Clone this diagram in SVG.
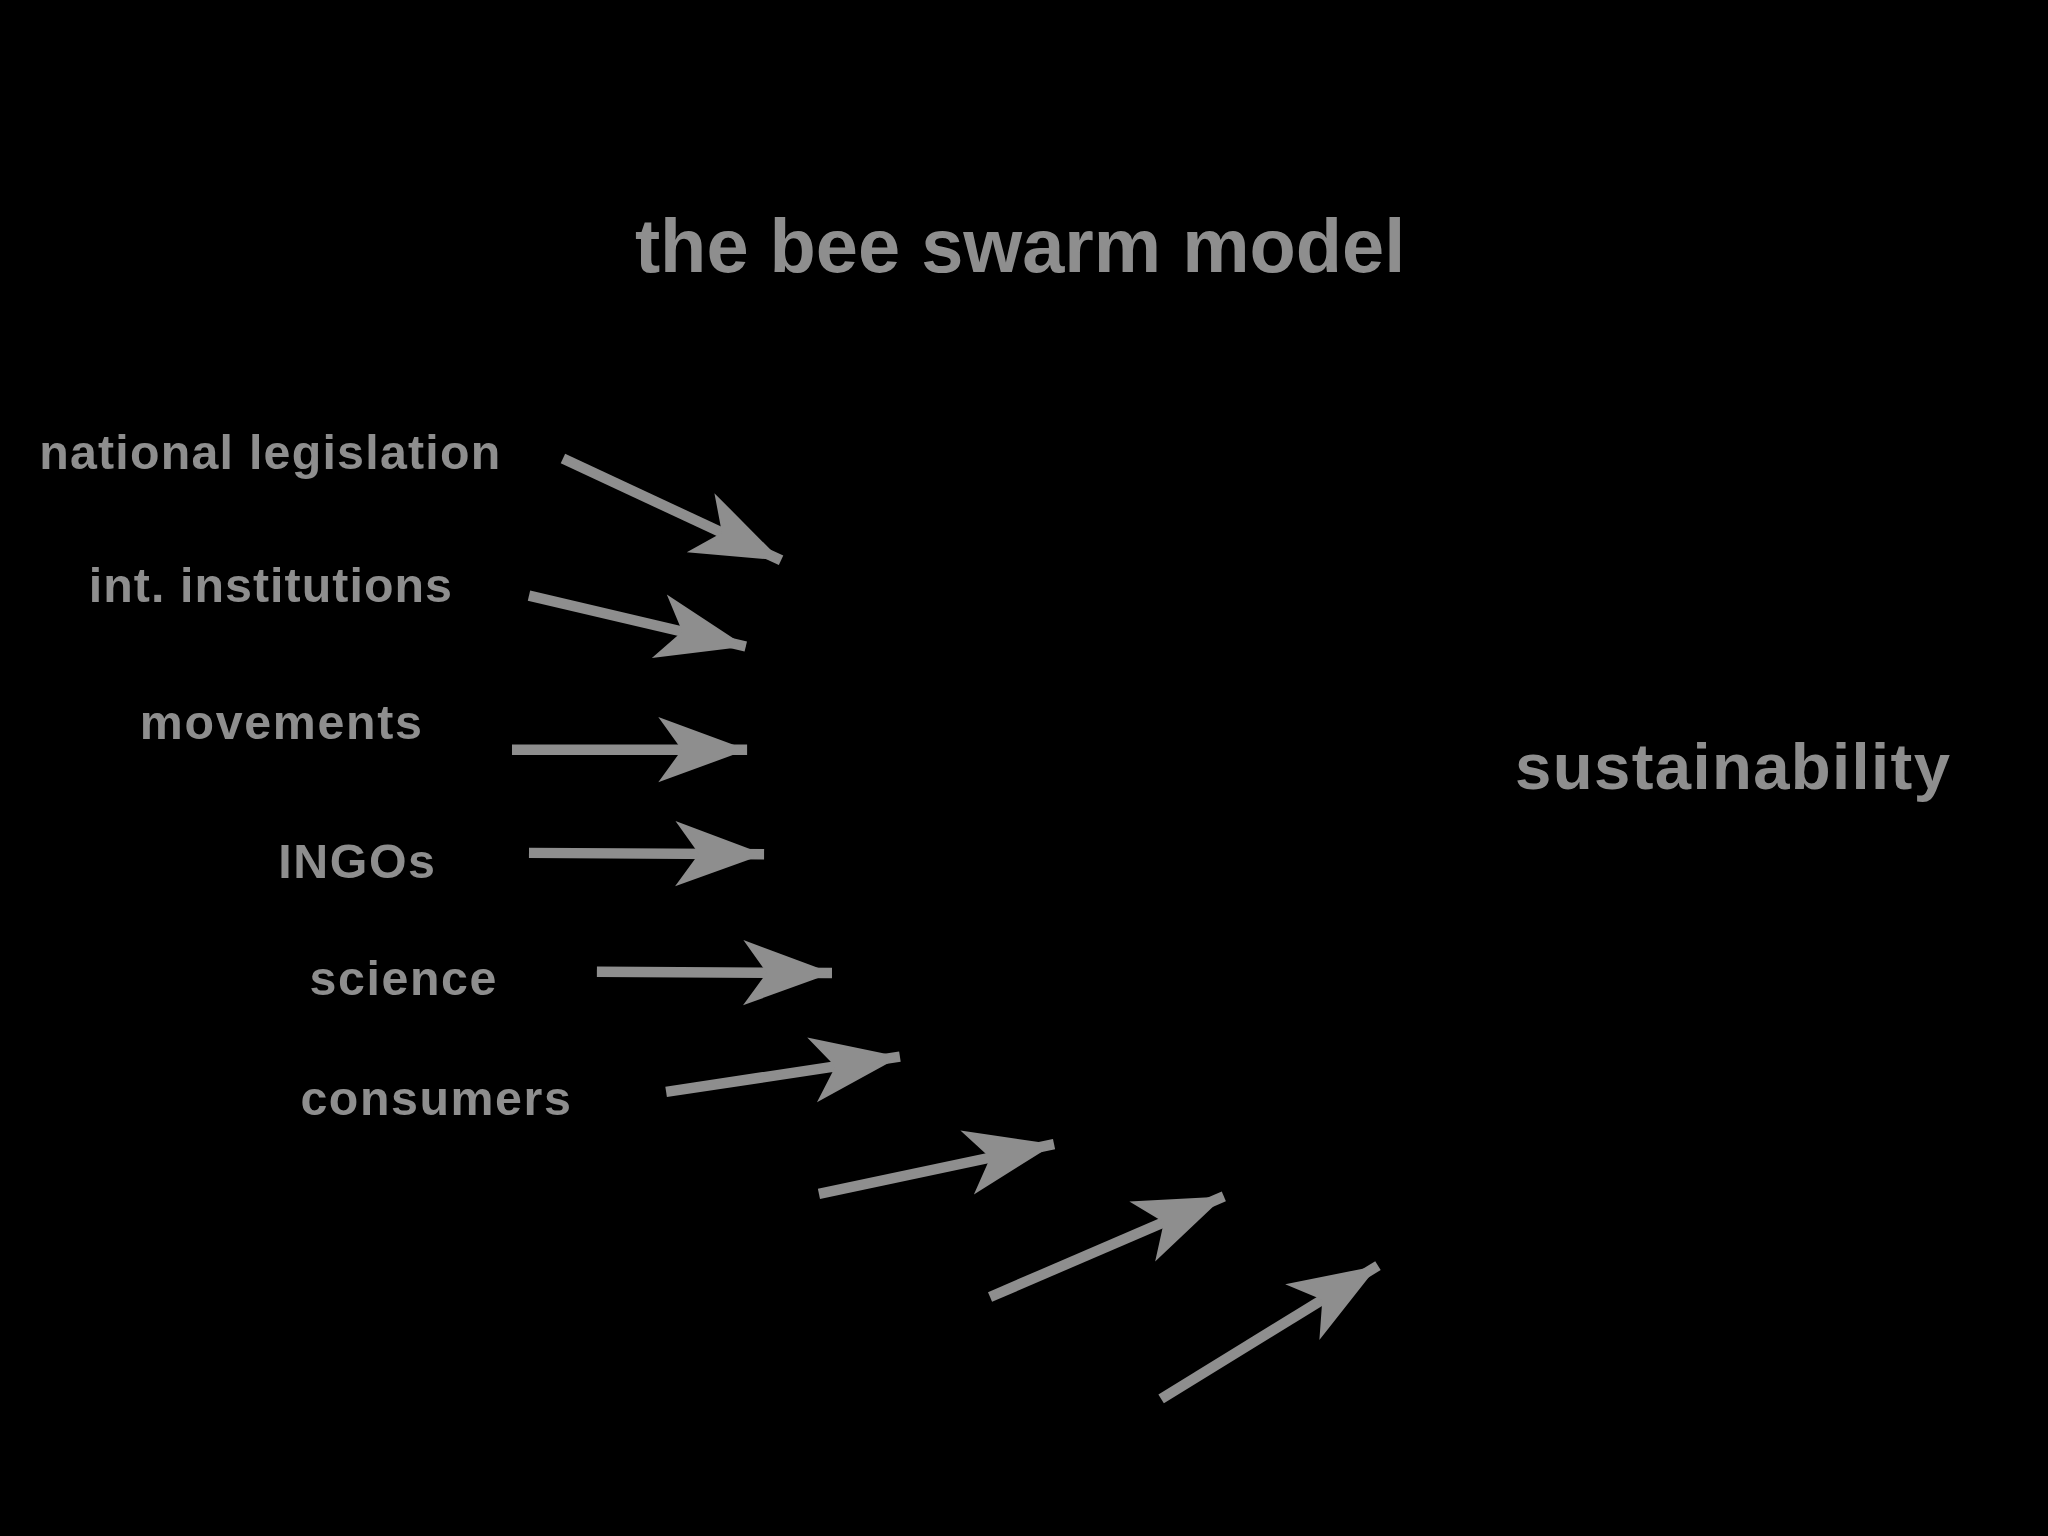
<svg xmlns="http://www.w3.org/2000/svg" width="2048" height="1536" viewBox="0 0 2048 1536">
<style>
text{font-family:"Liberation Sans",Arial,sans-serif;font-weight:bold;fill:#8e8e8e}
.l{font-size:37px}
.a{stroke:#8e8e8e;stroke-width:8;fill:none}
</style>
<defs>
<marker id="h" markerUnits="userSpaceOnUse" markerWidth="80" markerHeight="60" viewBox="-70 -30 75 60" refX="0" refY="0" orient="auto">
<path d="M0,0 L-68,-25 L-50,0 L-68,25 Z" fill="#8e8e8e"/>
</marker>
</defs>
<rect width="2048" height="1536" fill="#000"/>
<g transform="scale(1.30612)">
<g id="title"><text x="781" y="208" text-anchor="middle" font-size="58">the bee swarm model</text></g>
<g id="n1"><text class="l" x="30" y="359" textLength="353">national legislation</text></g>
<g id="n2"><text class="l" x="68" y="461" textLength="278">int. institutions</text></g>
<g id="n3"><text class="l" x="107" y="566" textLength="216">movements</text></g>
<g id="n4"><text class="l" x="213" y="672" textLength="120">INGOs</text></g>
<g id="n5"><text class="l" x="237" y="762" textLength="143">science</text></g>
<g id="n6"><text class="l" x="230" y="854" textLength="207">consumers</text></g>
<g id="n7"><text x="1160" y="604" font-size="50" textLength="333">sustainability</text></g>
<g id="connectors" marker-end="url(#h)">
<line class="a" x1="431" y1="351" x2="598" y2="429" marker-end="url(#h)"/>
<line class="a" x1="405" y1="456" x2="571" y2="495" marker-end="url(#h)"/>
<line class="a" x1="392" y1="574" x2="572" y2="574" marker-end="url(#h)"/>
<line class="a" x1="405" y1="653" x2="585" y2="654" marker-end="url(#h)"/>
<line class="a" x1="457" y1="744" x2="637" y2="745" marker-end="url(#h)"/>
<line class="a" x1="510" y1="836" x2="689" y2="809" marker-end="url(#h)"/>
<line class="a" x1="627" y1="914" x2="807" y2="876" marker-end="url(#h)"/>
<line class="a" x1="758" y1="993" x2="937" y2="916" marker-end="url(#h)"/>
<line class="a" x1="889" y1="1071" x2="1055" y2="969" marker-end="url(#h)"/>
</g>
</g>
</svg>
